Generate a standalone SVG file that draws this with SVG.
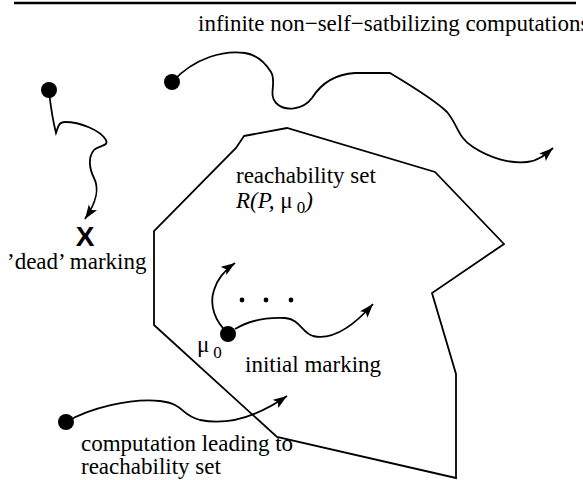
<svg xmlns="http://www.w3.org/2000/svg" width="583" height="480" viewBox="0 0 583 480">
<style>
.t{font-family:"Liberation Serif","Times New Roman",serif;font-size:23px;fill:#000}
.it{font-style:italic}
.sub{font-size:17px}
.ln{fill:none;stroke:#000;stroke-width:1.8;stroke-linejoin:miter}
.dot{fill:#000}
</style>
<defs>
<marker id="ah" markerUnits="userSpaceOnUse" markerWidth="16" markerHeight="12" refX="14" refY="5" orient="auto" viewBox="0 0 16 12">
<path d="M0,0 L14,5 L0,10 L3,5 z" fill="#000"/>
</marker>
</defs>
<rect width="583" height="480" fill="#fff"/>
<line x1="14" y1="3" x2="576" y2="3" stroke="#000" stroke-width="2.5"/>
<g id="reach-set">
<polygon class="ln" points="244,136 287,128 435,172 504,244 432,293 456,374 456,478 277,437 154,325 154,231 236,148"/>
</g>
<g id="connectors">
<path class="ln" marker-end="url(#ah)" d="M49,91 C51,110 54,125 56,133 C58,128 58,122 65,122 C80,122 100,130 106,140 C109,147 98,145 94,150 C88,157 89,168 94,178 C99,188 98,200 85,219"/>
<path class="ln" marker-end="url(#ah)" d="M172,82 C195,57 225,50 245,53 C258,55 266,64 271,72 C277,82 268,95 276,103 C285,112 303,110 312,98 C322,82 338,74 355,73 L390,73 C410,85 435,100 447,112 C458,125 458,138 473,147 C490,158 510,164 527,162 C538,161 545,155 553,148"/>
<path class="ln" marker-end="url(#ah)" d="M228,333 C215,322 209,305 214,290 C217,280 225,270 235,263"/>
<path class="ln" marker-end="url(#ah)" d="M235,329 C250,320 265,317 285,318 C300,319 302,333 313,336 C330,340 350,330 373,304"/>
<path class="ln" marker-end="url(#ah)" d="M66,422 C90,408 130,398 160,401 C185,404 180,415 200,420 C225,425 255,418 287,396"/>
</g>
<g id="dead-start"><circle class="dot" cx="49" cy="90" r="8"/></g>
<g id="nonstab-start"><circle class="dot" cx="172" cy="82" r="8"/></g>
<g id="initial-marking"><circle class="dot" cx="228" cy="334" r="8"/>
<text class="t" x="197" y="352">μ<tspan class="sub" dx="4" dy="6">0</tspan></text>
<text class="t" x="245" y="372">initial marking</text>
</g>
<g id="comp-start"><circle class="dot" cx="66" cy="422" r="8"/>
<text class="t" x="81" y="451">computation leading to</text>
<text class="t" x="81" y="474">reachability set</text>
</g>
<g id="ellipsis">
<circle class="dot" cx="242" cy="300" r="2.4"/><circle class="dot" cx="266" cy="300" r="2.4"/><circle class="dot" cx="291" cy="300" r="2.4"/>
</g>
<g id="dead-marking">
<text x="85" y="246" text-anchor="middle" style="font-family:'Liberation Sans',Arial,sans-serif;font-weight:bold;font-size:28px">X</text>
<text class="t" x="7" y="269">’dead’ marking</text>
</g>
<g id="labels">
<text class="t" x="198" y="31">infinite non−self−satbilizing computations</text>
<text class="t" x="236" y="183">reachability set</text>
<text class="t" x="236" y="208"><tspan class="it">R(P,</tspan> μ<tspan class="sub" dx="4" dy="5">0</tspan><tspan class="it" dy="-5">)</tspan></text>
</g>
</svg>
